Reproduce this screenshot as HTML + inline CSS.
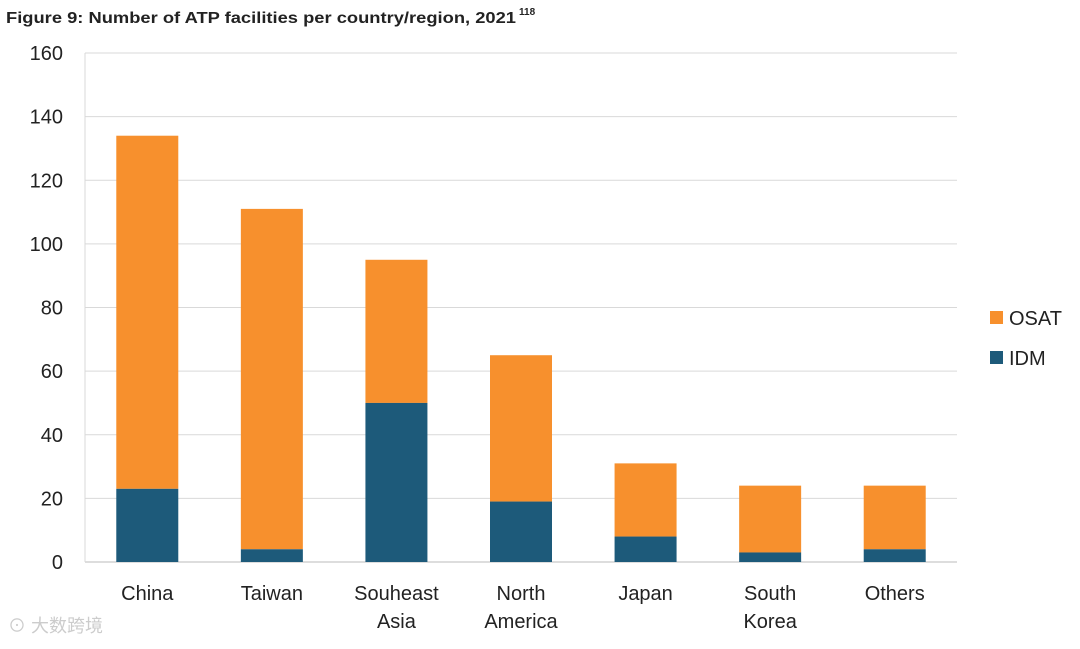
<!DOCTYPE html>
<html><head><meta charset="utf-8"><style>
body{margin:0;background:#fff;width:1080px;height:644px;overflow:hidden;font-family:"Liberation Sans",sans-serif}
svg text{font-family:"Liberation Sans","Noto Sans CJK SC",sans-serif}
</style></head><body>
<svg id="chart" width="1080" height="644">
<text x="6" y="23" font-size="16" font-weight="bold" fill="#222" style="font-stretch:condensed" textLength="510" lengthAdjust="spacingAndGlyphs">Figure 9: Number of ATP facilities per country/region, 2021</text>
<text x="519" y="15" font-size="10" font-weight="bold" fill="#222">118</text>
<g id="grid"></g><g id="bars"></g><g id="labels"></g>
<rect x="990" y="311" width="13" height="13" fill="#F7902D"/>
<text x="1009" y="325" font-size="20" fill="#222">OSAT</text>
<rect x="990" y="351" width="13" height="13" fill="#1D5A7A"/>
<text x="1009" y="365" font-size="20" fill="#222">IDM</text>
<text x="8" y="632" font-size="18" fill="#ccc">⊙ 大数跨境</text>
</svg>
<script>
const categories=[["China"],["Taiwan"],["Souheast","Asia"],["North","America"],["Japan"],["South","Korea"],["Others"]];
const idm=[23,4,50,19,8,3,4];
const osatTotal=[134,111,95,65,31,24,24];
const yTicks=[0,20,40,60,80,100,120,140,160];
const NS="http://www.w3.org/2000/svg";
const x0=85,x1=957,y0=562,y1=53,ymax=160;
const band=(x1-x0)/categories.length,bw=62;
const y=v=>y0-(v/ymax)*(y0-y1);
const cx=i=>x0+band*(i+0.5);
function mk(t,a,p){const e=document.createElementNS(NS,t);for(const k in a)e.setAttribute(k,a[k]);p.appendChild(e);return e;}
const g=document.getElementById('grid'),b=document.getElementById('bars'),l=document.getElementById('labels');
yTicks.forEach(t=>{
 const ln=mk('line',{x1:x0,x2:x1,y1:y(t),y2:y(t),stroke:t===0?'#bbb':'#d9d9d9','stroke-width':1},g);
 
 
 const tx=mk('text',{x:63,y:y(t)+7,'font-size':20,fill:'#222','text-anchor':'end'},l);
 tx.textContent=t;
 
 
});
mk('line',{x1:x0,x2:x0,y1:y1,y2:y0,stroke:'#d9d9d9'},g);
categories.forEach((c,i)=>{
 const r1=mk('rect',{x:cx(i)-bw/2,y:y(osatTotal[i]),width:bw,height:y(idm[i])-y(osatTotal[i]),fill:'#F7902D'},b);
 
 
 const r2=mk('rect',{x:cx(i)-bw/2,y:y(idm[i]),width:bw,height:y0-y(idm[i]),fill:'#1D5A7A'},b);
 
 
 c.forEach((s,j)=>{
  const t=mk('text',{x:cx(i),y:600+j*28,'font-size':20,fill:'#222','text-anchor':'middle'},l);
  t.textContent=s;
  
  
 });
});
</script>
</body></html>
